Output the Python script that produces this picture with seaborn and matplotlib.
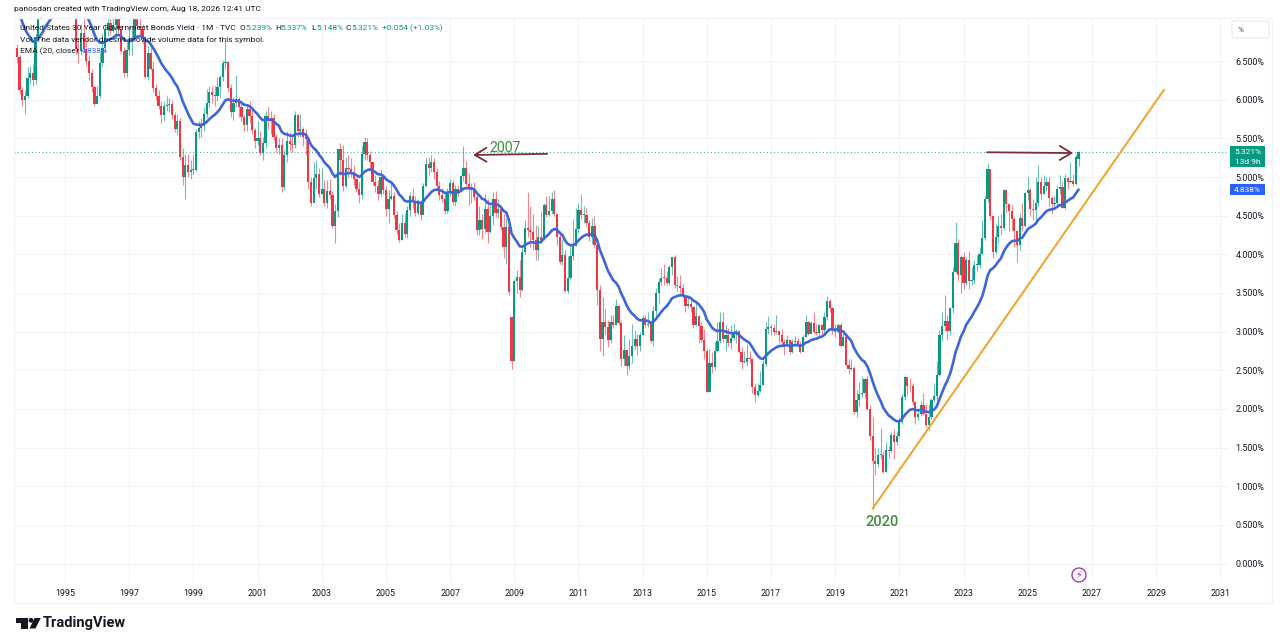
import numpy as np
import pandas as pd
import seaborn as sns
import matplotlib
matplotlib.use("Agg")
import matplotlib.pyplot as plt
from matplotlib.patches import Rectangle, Polygon, Ellipse, FancyBboxPatch

# Monthly candles, Jun 1993 .. Aug 2026 (yield, %)
closes = [
 6.67,6.55,6.12,6.00,6.05,6.28,6.34,
 6.25,6.81,7.09,7.31,7.43,7.62,7.43,7.53,7.82,7.97,7.92,7.88,
 7.70,7.45,7.43,7.34,6.66,6.63,6.86,6.66,6.50,6.34,6.16,5.95,
 6.05,6.47,6.67,6.90,6.99,6.89,6.97,7.11,6.92,6.63,6.35,6.64,
 6.79,6.80,7.10,6.95,6.91,6.78,6.30,6.61,6.40,6.15,6.05,5.92,
 5.80,5.92,5.93,5.95,5.80,5.62,5.72,5.26,5.00,5.16,5.06,5.09,
 5.09,5.58,5.63,5.66,5.82,5.96,6.10,6.06,6.05,6.16,6.29,6.48,
 6.49,6.15,5.84,5.96,6.01,5.90,5.78,5.67,5.88,5.79,5.61,5.46,
 5.50,5.31,5.44,5.79,5.75,5.76,5.52,5.37,5.42,4.87,5.29,5.47,
 5.43,5.42,5.80,5.59,5.62,5.52,5.49,4.93,4.67,4.99,5.04,4.78,
 4.84,4.66,4.82,4.77,4.37,4.56,5.36,5.22,4.88,5.12,5.10,5.07,
 4.97,4.84,4.77,5.30,5.45,5.28,5.19,4.94,4.88,4.78,5.00,4.83,
 4.58,4.72,4.76,4.51,4.31,4.19,4.41,4.26,4.57,4.76,4.69,4.54,
 4.68,4.51,4.89,5.17,5.12,5.19,5.07,4.89,4.77,4.72,4.56,4.81,
 4.92,4.68,4.84,4.81,5.01,5.12,4.91,4.86,4.83,4.74,4.31,4.45,
 4.33,4.59,4.29,4.49,4.71,4.54,4.59,4.35,4.09,4.35,3.51,2.62,
 3.66,3.71,3.54,4.03,4.34,4.32,4.29,4.18,4.05,4.23,4.19,4.64,
 4.51,4.56,4.72,4.52,4.22,3.90,3.99,3.52,3.69,3.98,4.11,4.33,
 4.57,4.51,4.51,4.40,4.22,4.37,4.12,3.54,2.90,3.13,3.06,2.89,
 3.12,3.09,3.33,3.11,2.64,2.76,2.56,2.68,2.82,2.91,2.81,2.95,
 3.17,3.08,3.10,2.88,3.27,3.50,3.64,3.70,3.69,3.63,3.83,3.96,
 3.60,3.59,3.56,3.46,3.33,3.36,3.32,3.08,3.20,3.07,2.89,2.75,
 2.22,2.60,2.54,2.75,2.88,3.12,2.91,2.95,2.85,2.92,2.98,3.01,
 2.74,2.61,2.61,2.66,2.65,2.28,2.18,2.23,2.31,2.58,3.03,3.06,
 3.05,3.00,3.01,2.95,2.86,2.83,2.89,2.73,2.86,2.88,2.83,2.74,
 2.93,3.13,2.97,3.11,3.00,2.98,3.08,3.02,3.19,3.39,3.30,3.02,
 3.00,3.09,2.81,2.93,2.57,2.52,2.53,1.96,2.11,2.19,2.21,2.39,
 2.00,1.65,1.32,1.29,1.41,1.41,1.19,1.47,1.46,1.66,1.57,1.65,
 1.83,2.15,2.41,2.30,2.29,2.09,1.89,1.93,2.05,1.93,1.79,1.90,
 2.11,2.17,2.44,2.95,3.07,3.14,3.01,3.30,3.77,4.15,3.73,3.96,
 3.63,3.92,3.65,3.67,3.86,3.86,4.01,4.21,4.71,5.10,4.50,4.03,
 4.22,4.37,4.34,4.83,4.65,4.56,4.46,4.30,4.12,4.47,4.36,4.79,
 4.83,4.58,4.57,4.66,4.93,4.78,4.89,4.93,4.73,4.65,4.67,4.84,
 4.87,4.60,4.99,4.93,4.95,4.91,5.26,5.321]

highs = [
 6.92,6.72,6.58,6.16,6.12,6.42,6.44,
 6.46,6.86,7.20,7.42,7.62,7.68,7.72,7.62,7.90,8.16,8.16,8.02,
 7.95,7.75,7.56,7.46,7.34,6.80,6.98,7.05,6.78,6.58,6.40,6.18,
 6.18,6.60,6.86,6.98,7.12,7.18,7.20,7.18,7.16,6.96,6.68,6.75,
 6.95,6.90,7.17,7.17,7.08,6.98,6.82,6.70,6.68,6.50,6.20,6.12,
 5.98,5.98,6.05,6.02,6.00,5.84,5.82,5.76,5.38,5.30,5.30,5.22,
 5.28,5.62,5.72,5.76,5.90,6.14,6.18,6.18,6.18,6.30,6.32,6.52,
 6.75,6.50,6.20,6.04,6.32,6.04,5.98,5.80,5.95,5.98,5.88,5.64,
 5.72,5.60,5.52,5.86,5.92,5.86,5.82,5.56,5.50,5.50,5.35,5.60,
 5.58,5.52,5.85,5.82,5.82,5.65,5.62,5.42,5.00,5.20,5.22,5.12,
 5.12,4.96,4.96,4.98,4.82,4.65,5.36,5.44,5.42,5.26,5.28,5.25,
 5.15,5.00,4.94,5.40,5.52,5.50,5.34,5.20,5.02,4.96,5.10,5.02,
 4.88,4.83,4.93,4.80,4.56,4.41,4.52,4.53,4.62,4.80,4.86,4.76,
 4.72,4.70,4.92,5.24,5.26,5.28,5.24,5.12,4.95,4.86,4.80,4.86,
 4.98,4.96,4.90,4.90,5.03,5.40,5.21,5.05,4.92,4.94,4.78,4.62,
 4.52,4.78,4.72,4.62,4.80,4.82,4.72,4.62,4.52,4.47,4.41,3.19,
 3.68,3.80,3.92,4.10,4.44,4.80,4.62,4.52,4.38,4.36,4.56,4.66,
 4.76,4.76,4.80,4.83,4.48,4.30,4.20,4.06,3.98,4.13,4.46,4.60,
 4.66,4.78,4.62,4.60,4.45,4.47,4.49,4.20,3.60,3.45,3.30,3.15,
 3.22,3.22,3.42,3.35,3.15,2.95,2.78,2.90,3.10,3.02,2.97,3.00,
 3.22,3.22,3.26,3.14,3.33,3.57,3.70,3.82,3.88,3.78,3.86,3.97,
 3.99,3.72,3.73,3.62,3.47,3.48,3.42,3.33,3.40,3.22,3.13,3.04,
 2.78,2.77,2.73,2.87,3.12,3.26,3.25,3.09,3.05,3.08,3.11,3.03,
 3.02,2.80,2.75,2.84,2.75,2.66,2.33,2.33,2.49,2.63,3.12,3.20,
 3.10,3.10,3.21,3.02,3.03,2.90,2.95,2.90,2.90,2.94,2.92,2.88,
 2.95,3.22,3.14,3.14,3.25,3.10,3.10,3.10,3.25,3.46,3.42,3.32,
 3.10,3.10,3.13,3.00,2.96,2.65,2.65,2.55,2.25,2.35,2.42,2.40,
 2.42,2.05,1.90,1.50,1.50,1.75,1.45,1.57,1.52,1.70,1.74,1.71,
 1.90,2.19,2.43,2.35,2.40,2.33,2.10,2.00,2.10,2.20,2.07,2.06,
 2.14,2.33,2.62,3.02,3.25,3.48,3.21,3.32,3.84,4.42,4.20,3.99,
 4.03,3.97,4.04,3.83,3.92,3.99,4.09,4.45,4.75,5.18,5.10,4.50,
 4.40,4.50,4.52,4.85,4.80,4.65,4.65,4.48,4.30,4.53,4.66,4.80,
 5.00,4.86,4.72,5.00,5.15,5.00,5.02,5.00,5.00,4.75,4.75,4.90,
 5.02,4.95,5.04,5.00,5.19,5.04,5.28,5.337]

lows = [
 6.58,6.48,6.08,5.92,5.81,6.02,6.20,
 6.18,6.20,6.78,7.05,7.24,7.30,7.38,7.32,7.50,7.76,7.82,7.78,
 7.62,7.40,7.32,7.24,6.62,6.47,6.58,6.62,6.44,6.26,6.10,5.92,
 5.98,6.02,6.42,6.62,6.82,6.84,6.88,6.80,6.86,6.60,6.30,6.30,
 6.58,6.58,6.76,6.92,6.82,6.72,6.28,6.26,6.38,6.10,6.00,5.88,
 5.70,5.72,5.86,5.84,5.75,5.58,5.56,5.22,4.90,4.72,5.00,4.98,
 5.04,5.08,5.50,5.52,5.60,5.78,5.90,5.96,5.92,5.98,6.02,6.24,
 6.40,6.10,5.78,5.74,5.90,5.78,5.72,5.60,5.60,5.70,5.55,5.38,
 5.42,5.28,5.22,5.37,5.62,5.55,5.46,5.33,5.30,4.80,4.83,5.20,
 5.34,5.32,5.38,5.52,5.52,5.40,5.28,4.85,4.63,4.70,4.85,4.74,
 4.78,4.62,4.60,4.72,4.34,4.15,4.48,5.02,4.82,4.86,5.00,5.00,
 4.88,4.80,4.66,4.72,5.22,5.22,5.10,4.90,4.80,4.70,4.76,4.78,
 4.50,4.41,4.70,4.47,4.26,4.16,4.18,4.22,4.21,4.50,4.60,4.50,
 4.51,4.45,4.52,4.87,5.02,5.06,4.98,4.85,4.70,4.68,4.52,4.54,
 4.75,4.64,4.62,4.76,4.80,4.95,4.88,4.64,4.67,4.70,4.25,4.25,
 4.20,4.28,4.15,4.28,4.38,4.48,4.47,4.32,3.95,3.88,3.47,2.52,
 2.62,3.50,3.45,3.52,4.00,4.22,4.10,4.05,3.92,3.92,4.14,4.19,
 4.48,4.50,4.52,4.50,4.12,3.88,3.86,3.51,3.50,3.68,3.92,4.12,
 4.28,4.46,4.40,4.36,4.17,4.13,4.10,3.35,2.75,2.68,2.95,2.80,
 2.85,3.05,3.08,3.08,2.55,2.55,2.44,2.50,2.60,2.78,2.70,2.75,
 2.95,3.06,3.06,2.85,2.82,3.20,3.36,3.60,3.60,3.60,3.60,3.73,
 3.57,3.52,3.50,3.43,3.26,3.30,3.25,3.05,3.07,2.85,2.86,2.64,
 2.22,2.22,2.46,2.50,2.74,2.85,2.87,2.75,2.81,2.78,2.89,2.85,
 2.72,2.51,2.60,2.55,2.60,2.20,2.09,2.15,2.22,2.31,2.55,2.97,
 2.96,2.96,2.97,2.85,2.82,2.70,2.81,2.71,2.72,2.82,2.80,2.72,
 2.75,2.93,2.95,2.98,2.97,2.95,2.94,2.93,3.00,3.15,3.26,2.97,
 2.93,2.98,2.80,2.84,2.55,2.45,2.50,1.93,1.90,2.04,2.16,2.14,
 1.98,1.60,0.70,1.15,1.25,1.35,1.17,1.18,1.37,1.44,1.35,1.53,
 1.64,1.80,2.12,2.18,2.22,2.05,1.80,1.86,1.91,1.92,1.77,1.73,
 1.87,2.09,2.06,2.42,2.88,3.01,2.89,2.96,3.24,3.76,3.66,3.50,
 3.55,3.60,3.55,3.60,3.62,3.78,3.82,4.00,4.18,4.68,4.45,3.95,
 4.00,4.15,4.25,4.32,4.55,4.30,4.30,4.10,3.90,4.05,4.30,4.35,
 4.70,4.50,4.45,4.42,4.62,4.72,4.78,4.82,4.62,4.52,4.60,4.64,
 4.78,4.60,4.58,4.85,4.92,4.88,4.90,5.148]

first_open = 6.88
gap_months = [186, 398]      # candles whose open differs from the prior close
gap_opens = [3.19, 5.239]
ema_seed = 7.35
last_close = 5.321
last_ema = 4.838

year_ticks = list(range(1995, 2033, 2))
price_ticks = [0.0, 0.5, 1.0, 1.5, 2.0, 2.5, 3.0, 3.5, 4.0, 4.5, 5.0, 5.5, 6.0, 6.5]

trend_months = [302, 411]
trend_values = [0.71, 6.13]
arrow_2007_months = [180.3, 152.6]
arrow_2007_values = [5.30, 5.285]
arrow_now_months = [344.8, 377.0]
arrow_now_values = [5.32, 5.31]

UP, DOWN, BLUE = "#089981", "#F23645", "#3D65DE"
GRID, INK = "#F0F3FA", "#131722"

sns.set_theme(style="white")
plt.rcParams["font.family"] = ["Roboto", "DejaVu Sans"]

W, H = 1287, 633
fig = plt.figure(figsize=(W / 100, H / 100), dpi=100, facecolor="white")
ax = fig.add_axes([14 / W, 1 - 583 / H, 1214 / W, 565 / H])

def fx(x): return x / W
def fy(y): return 1 - y / H

n = len(closes)
start = -19
frame = pd.DataFrame({"month": np.arange(start, start + n), "close": closes, "high": highs, "low": lows})
opens = [first_open] + closes[:-1]
for i, v in zip(gap_months, gap_opens):
    opens[i] = v
frame["open"] = opens
frame["up"] = frame["close"] >= frame["open"]
frame["color"] = np.where(frame["up"], UP, DOWN)
frame["ema"] = pd.Series([ema_seed] + closes).ewm(span=20, adjust=False).mean().values[1:]

ax.vlines(frame["month"], frame["low"], frame["high"], colors=frame["color"], linewidth=0.8, zorder=3, alpha=0.6)
ax.bar(frame["month"], (frame["close"] - frame["open"]).abs().clip(lower=0.012),
       bottom=frame[["open", "close"]].min(axis=1), width=0.82, color=frame["color"], linewidth=0, zorder=4)
sns.lineplot(data=frame, x="month", y="ema", ax=ax, color=BLUE, linewidth=1.9, zorder=5, errorbar=None)
ax.axhline(last_close, color=UP, linestyle=(0, (1, 2.6)), linewidth=0.7, zorder=2, alpha=0.85)

ax.plot(trend_months, trend_values, color="#F2A32C", linewidth=1.45, zorder=6, solid_capstyle="round")
for xs, ys in ((arrow_2007_months, arrow_2007_values), (arrow_now_months, arrow_now_values)):
    ax.annotate("", xy=(xs[1], ys[1]), xytext=(xs[0], ys[0]), zorder=7,
                arrowprops=dict(arrowstyle="->,head_length=0.7,head_width=0.42", color="#7B2D38", lw=1.3,
                                shrinkA=0, shrinkB=0))
ax.text(164.6, 5.38, "2007", color="#3F8F3F", fontsize=10.2, ha="center", va="center", zorder=8)
ax.text(305.5, 0.54, "2020", color="#3F8F3F", fontsize=10.5, ha="center", va="center", zorder=8, fontweight="medium")

ax.set_xlim(-19.07, 434.9)
ax.set_ylim(-0.252, 7.057)
ax.set_xticks([(y - 1995) * 12 for y in year_ticks])
ax.set_xticklabels([str(y) for y in year_ticks], fontsize=6.4, color=INK)
ax.yaxis.tick_right()
ax.set_yticks(price_ticks)
ax.set_yticklabels([f"{p:.3f}%" for p in price_ticks], fontsize=6.4, color=INK)
ax.tick_params(axis="x", length=0, pad=4.5)
ax.tick_params(axis="y", length=0, pad=5.5)
ax.set_xlabel("")
ax.set_ylabel("")
ax.grid(True, color=GRID, linewidth=0.7)
ax.set_axisbelow(True)
for s in ax.spines.values():
    s.set_visible(False)

# Outer pane frame
fig.add_artist(Rectangle((fx(14), fy(603)), 1258 / W, 585 / H, transform=fig.transFigure, fill=False, ec=GRID, lw=1.0))

# Header and legend text
def label(x, y, s, color=INK, size=6.05, **kw):
    fig.text(fx(x), fy(y), s, color=color, fontsize=size, va="center", ha=kw.pop("ha", "left"), zorder=20, **kw)

label(14, 9.5, "panosdan created with TradingView.com, Aug 18, 2026 12:41 UTC")
label(20, 28, "United States 30 Year Government Bonds Yield · 1M · TVC")
for x, h, v in ((239.5, "O", "5.239%"), (275, "H", "5.337%"), (311, "L", "5.148%"), (346, "C", "5.321%")):
    label(x, 28, h)
    label(x + 5.5, 28, v, color=UP)
label(381.5, 28, "+0.054 (+1.03%)", color=UP)
label(20, 39.5, "Vol: The data vendor doesn't provide volume data for this symbol.")
label(20, 51, "EMA (20, close)")
label(81, 51, "4.838%", color="#2962FF")

# Price scale badges
fig.add_artist(FancyBboxPatch((fx(1232), fy(38)), 37 / W, 17 / H, boxstyle="round,pad=0,rounding_size=0.002",
                              transform=fig.transFigure, fc="white", ec="#E6E9F0", lw=0.8, zorder=15))
label(1238, 29.5, "%", color="#50535E")
fig.add_artist(Rectangle((fx(1230), fy(167)), 35 / W, 21 / H, transform=fig.transFigure, fc=UP, ec="none", zorder=15))
label(1247.5, 151.5, "5.321%", color="white", ha="center")
label(1247.5, 162, "13d 9h", color="white", ha="center")
fig.add_artist(Rectangle((fx(1230), fy(195)), 35 / W, 11 / H, transform=fig.transFigure, fc="#2962FF", ec="none", zorder=15))
label(1247.5, 189.5, "4.838%", color="white", ha="center")

# Events marker on the time scale
fig.add_artist(Ellipse((fx(1079), fy(575)), 14 / W, 14 / H, transform=fig.transFigure, fc="white", ec="#9C27B0", lw=0.9, zorder=15))
fig.text(fx(1079), fy(575), "⚡", color="#9C27B0", fontsize=7, ha="center", va="center", family="DejaVu Sans", zorder=16)

# Brand mark
for pts in ([(15.5, 618), (28, 618), (28, 628.5), (21, 628.5), (21, 622.5), (15.5, 622.5)],
            [(34.5, 618), (40.8, 618), (35.5, 628.5), (29.5, 628.5)]):
    fig.add_artist(Polygon([(fx(a), fy(b)) for a, b in pts], transform=fig.transFigure, fc=INK, ec="none"))
fig.add_artist(Ellipse((fx(31), fy(620.3)), 4.8 / W, 4.8 / H, transform=fig.transFigure, fc=INK, ec="none"))
label(42.5, 622.5, "TradingView", size=10.5, fontweight="bold")

fig.savefig("out.png", dpi=100, facecolor="white")
